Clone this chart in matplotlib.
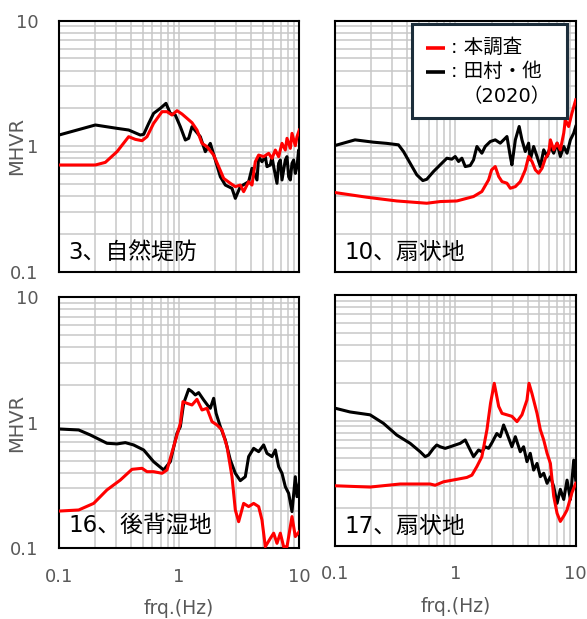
import matplotlib
matplotlib.use("Agg")
import matplotlib.pyplot as plt
from matplotlib.ticker import FixedLocator, NullFormatter, FixedFormatter, LogLocator
from matplotlib.patches import Rectangle

# --- MHVR spectra, site 3 (自然堤防) ---
f3_new = [0.1, 0.2006, 0.243, 0.304, 0.380, 0.432, 0.491, 0.540, 0.613, 0.720, 0.792, 0.872,
          0.959, 1.056, 1.162, 1.279, 1.407, 1.549, 1.704, 1.937, 2.132, 2.346, 2.666, 2.934,
          3.228, 3.441, 3.787, 4.037, 4.303, 4.588, 5.049, 5.557, 5.923, 6.315, 6.730, 7.176,
          7.647, 7.898, 8.418, 8.690, 9.263, 9.563, 10.0]
v3_new = [0.708, 0.708, 0.743, 0.904, 1.190, 1.133, 1.106, 1.190, 1.520, 1.883, 1.883, 1.771,
          1.918, 1.804, 1.667, 1.539, 1.345, 1.053, 0.991, 0.850, 0.687, 0.554, 0.506, 0.476,
          0.490, 0.434, 0.521, 0.490, 0.752, 0.850, 0.825, 0.877, 0.800, 0.932, 0.825, 1.053,
          0.932, 1.155, 0.961, 1.265, 1.009, 1.190, 1.345]
f3_old = [0.1, 0.2006, 0.304, 0.380, 0.475, 0.507, 0.558, 0.613, 0.697, 0.777, 0.844, 0.929,
          1.023, 1.126, 1.200, 1.279, 1.500, 1.651, 1.817, 2.000, 2.201, 2.423, 2.753, 2.934,
          3.228, 3.787, 4.037, 4.444, 4.588, 4.890, 5.213, 5.383, 5.738, 5.923, 6.116, 6.519,
          6.730, 6.951, 7.176, 7.647, 7.898, 8.153, 8.418, 8.690, 8.972, 9.263, 9.563, 9.874,
          10.0]
v3_old = [1.227, 1.475, 1.387, 1.345, 1.227, 1.243, 1.520, 1.826, 2.002, 2.194, 1.826, 1.771,
          1.430, 1.120, 1.155, 1.430, 1.190, 0.904, 1.053, 0.776, 0.571, 0.490, 0.461, 0.384,
          0.476, 0.521, 0.666, 0.538, 0.825, 0.752, 0.825, 0.687, 0.708, 0.825, 0.687, 0.506,
          0.730, 0.776, 0.538, 0.776, 0.825, 0.571, 0.538, 0.730, 0.776, 0.607, 0.687, 0.932,
          0.877]

# --- site 10 (扇状地) ---
f10_new = [0.1, 0.1834, 0.326, 0.579, 0.748, 1.029, 1.416, 1.66, 1.888, 2.0, 2.145, 2.29, 2.44,
           2.683, 2.86, 3.15, 3.463, 3.81, 4.06, 4.33, 4.62, 4.92, 5.25, 5.6, 5.96, 6.16, 6.56,
           7.0, 7.45, 7.95, 8.2, 8.73, 9.3, 10.0]
v10_new = [0.427, 0.392, 0.366, 0.351, 0.362, 0.366, 0.397, 0.435, 0.539, 0.647, 0.688, 0.573,
           0.522, 0.507, 0.462, 0.476, 0.522, 0.647, 0.827, 0.755, 0.647, 0.609, 0.667, 0.802,
           0.879, 1.123, 0.935, 1.057, 0.935, 1.27, 1.62, 1.435, 1.833, 2.34]
f10_old = [0.1, 0.1467, 0.2085, 0.269, 0.3366, 0.3705, 0.4208, 0.4782, 0.5364, 0.579, 0.658,
           0.748, 0.850, 0.934, 0.997, 1.063, 1.133, 1.208, 1.328, 1.416, 1.51, 1.66, 1.77, 1.95,
           2.145, 2.36, 2.517, 2.683, 2.86, 2.95, 3.15, 3.39, 3.575, 3.81, 4.06, 4.19, 4.47, 4.77,
           5.08, 5.42, 5.78, 6.16, 6.56, 7.0, 7.45, 7.95, 8.47, 9.03, 9.62, 10.0]
v10_old = [1.012, 1.123, 1.076, 1.053, 1.025, 0.907, 0.732, 0.591, 0.532, 0.545, 0.628, 0.710,
           0.802, 0.788, 0.827, 0.755, 0.802, 0.688, 0.701, 0.778, 0.994, 0.879, 0.994, 1.089,
           1.123, 1.057, 1.123, 1.194, 0.827, 0.710, 1.123, 1.435, 1.123, 0.907, 1.057, 0.778,
           0.994, 0.827, 0.688, 0.935, 0.827, 0.994, 0.879, 1.057, 0.827, 0.994, 0.879, 1.123,
           1.27, 1.435]

# --- site 16 (後背湿地) ---
f16_new = [0.1, 0.1458, 0.1943, 0.2508, 0.324, 0.405, 0.491, 0.540, 0.613, 0.720, 0.792, 0.900,
           1.023, 1.076, 1.162, 1.279, 1.407, 1.549, 1.704, 1.876, 2.064, 2.272, 2.501, 2.753,
           2.934, 3.127, 3.441, 3.787, 4.169, 4.588, 4.890, 5.213, 5.738, 6.116, 6.519, 6.951,
           7.406, 7.898, 8.690, 9.263, 10.0]
v16_new = [0.198, 0.202, 0.228, 0.292, 0.350, 0.426, 0.434, 0.408, 0.408, 0.396, 0.421, 0.646,
           0.991, 1.475, 1.430, 1.387, 1.539, 1.265, 1.305, 1.022, 0.961, 0.877, 0.646, 0.372,
           0.202, 0.163, 0.228, 0.215, 0.228, 0.215, 0.168, 0.103, 0.120, 0.132, 0.1096, 0.132,
           0.103, 0.103, 0.179, 0.124, 0.136]
f16_old = [0.1, 0.1458, 0.1823, 0.2508, 0.304, 0.3565, 0.418, 0.507, 0.613, 0.743, 0.844, 0.959,
           1.023, 1.090, 1.200, 1.279, 1.363, 1.453, 1.600, 1.760, 1.817, 1.937, 2.03, 2.201,
           2.423, 2.666, 2.934, 3.228, 3.553, 3.787, 4.169, 4.588, 5.049, 5.383, 5.923, 6.315,
           6.730, 7.176, 7.647, 8.153, 8.690, 9.263, 9.563, 10.0]
v16_old = [0.893, 0.877, 0.800, 0.687, 0.679, 0.695, 0.666, 0.607, 0.490, 0.421, 0.490, 0.825,
           0.932, 1.430, 1.849, 1.771, 1.667, 1.740, 1.520, 1.345, 1.305, 1.568, 1.190, 0.932,
           0.730, 0.506, 0.396, 0.346, 0.372, 0.538, 0.626, 0.589, 0.666, 0.571, 0.538, 0.607,
           0.447, 0.396, 0.310, 0.274, 0.196, 0.372, 0.258, 0.330]

# --- site 17 (扇状地) ---
f17_new = [0.1, 0.1956, 0.3475, 0.617, 0.68, 0.7975, 1.029, 1.247, 1.372, 1.51, 1.66, 1.83, 1.96,
           2.104, 2.29, 2.44, 2.683, 2.95, 3.25, 3.575, 3.935, 4.09, 4.33, 4.77, 5.08, 5.42,
           5.78, 6.16, 6.56, 7.0, 7.45, 8.0, 8.47, 9.3, 10.0]
v17_new = [0.302, 0.295, 0.312, 0.312, 0.305, 0.325, 0.340, 0.352, 0.367, 0.43, 0.515, 0.845,
           1.376, 1.98, 1.297, 1.14, 1.11, 1.08, 0.98, 1.11, 1.458, 1.98, 1.64, 1.14, 0.845, 0.70,
           0.548, 0.455, 0.25, 0.182, 0.157, 0.175, 0.194, 0.266, 0.316]
f17_old = [0.1, 0.1333, 0.1956, 0.2525, 0.326, 0.4208, 0.51, 0.5615, 0.598, 0.658, 0.70, 0.748,
           0.8234, 0.906, 0.997, 1.097, 1.208, 1.287, 1.416, 1.558, 1.66, 1.77, 1.888, 2.0,
           2.21, 2.36, 2.517, 2.683, 2.95, 3.15, 3.463, 3.69, 3.935, 4.19, 4.47, 4.77, 5.08,
           5.42, 5.78, 6.16, 6.56, 7.0, 7.45, 7.95, 8.47, 9.03, 9.62, 10.0]
v17_old = [1.254, 1.17, 1.11, 0.95, 0.766, 0.658, 0.564, 0.515, 0.531, 0.60, 0.638, 0.618,
           0.60, 0.618, 0.638, 0.658, 0.70, 0.618, 0.515, 0.582, 0.564, 0.618, 0.60, 0.658,
           0.788, 0.743, 0.921, 0.788, 0.618, 0.743, 0.564, 0.618, 0.470, 0.548, 0.403, 0.455,
           0.357, 0.38, 0.316, 0.357, 0.298, 0.219, 0.283, 0.235, 0.335, 0.235, 0.483, 0.335]

site_labels = ["3、自然堤防", "10、扇状地", "16、後背湿地", "17、扇状地"]
legend_labels = [": 本調査", ": 田村・他", "（2020）"]
tick_vals = [0.1, 1, 10]
tick_text = ["0.1", "1", "10"]

# Latin glyphs from DejaVu, kanji fall back to Noto CJK
jp = ["DejaVu Sans", "Noto Sans CJK JP"]
gray = "#595959"

fig = plt.figure(figsize=(5.87, 6.19), dpi=100)

# axes boxes: [left, bottom, width, height] in figure fraction
boxes = [[0.1005, 0.5611, 0.4094, 0.4055],
         [0.5707, 0.5611, 0.4101, 0.4055],
         [0.1005, 0.1142, 0.4094, 0.4055],
         [0.5707, 0.1179, 0.4101, 0.4055]]
series = [(f3_new, v3_new, f3_old, v3_old),
          (f10_new, v10_new, f10_old, v10_old),
          (f16_new, v16_new, f16_old, v16_old),
          (f17_new, v17_new, f17_old, v17_old)]
label_y = [0.075, 0.075, 0.09, 0.077]

axes = []
for i, box in enumerate(boxes):
    ax = fig.add_axes(box)
    axes.append(ax)
    fn, vn, fo, vo = series[i]
    ax.plot(fo, vo, color="black", lw=2.2, zorder=3)
    ax.plot(fn, vn, color="#ff0000", lw=2.2, zorder=4)

    ax.set_xscale("log")
    ax.set_yscale("log")
    ax.set_xlim(0.1, 10)
    ax.set_ylim(0.1, 10)
    for axis in (ax.xaxis, ax.yaxis):
        axis.set_major_locator(FixedLocator(tick_vals))
        axis.set_major_formatter(FixedFormatter(tick_text))
        axis.set_minor_locator(LogLocator(base=10, subs=range(2, 10)))
        axis.set_minor_formatter(NullFormatter())
    ax.grid(True, which="both", color="#c8c8c8", lw=1.1, zorder=0)
    ax.set_axisbelow(True)
    for s in ax.spines.values():
        s.set_linewidth(1.5)
        s.set_color("black")
    ax.tick_params(which="both", length=0, labelsize=13, labelcolor=gray)
    ax.tick_params(axis="y", pad=15)
    ax.tick_params(axis="x", pad=14)
    if i % 2 == 1:
        ax.tick_params(axis="y", labelleft=False)
    else:
        ax.text(-0.175, 0.5, "MHVR", transform=ax.transAxes, rotation=90,
                ha="center", va="center", fontsize=14, color=gray)
    if i < 2:
        ax.tick_params(axis="x", labelbottom=False)
    else:
        ax.text(0.5, -0.239, "frq.(Hz)", transform=ax.transAxes,
                ha="center", va="center", fontsize=13.5, color=gray)

    ax.text(0.04, label_y[i], site_labels[i], transform=ax.transAxes,
            ha="left", va="center", fontsize=16.5, family=jp, color="black", zorder=6)

# legend box in the site 10 panel
lax = axes[1]
lax.add_patch(Rectangle((0.32, 0.614), 0.643, 0.374, transform=lax.transAxes,
                        facecolor="white", edgecolor="#1c2e3b", lw=2.2, zorder=7))
lax.plot([0.378, 0.456], [0.892, 0.892], transform=lax.transAxes, color="#ff0000",
         lw=2.6, zorder=8, solid_capstyle="butt")
lax.plot([0.378, 0.456], [0.797, 0.797], transform=lax.transAxes, color="black",
         lw=2.6, zorder=8, solid_capstyle="butt")
lax.text(0.48, 0.892, legend_labels[0], transform=lax.transAxes, ha="left", va="center",
         fontsize=14, family=jp, zorder=8)
lax.text(0.48, 0.797, legend_labels[1], transform=lax.transAxes, ha="left", va="center",
         fontsize=14, family=jp, zorder=8)
lax.text(0.53, 0.697, legend_labels[2], transform=lax.transAxes, ha="left", va="center",
         fontsize=14, family=jp, zorder=8)

fig.savefig("out.png", dpi=100)
